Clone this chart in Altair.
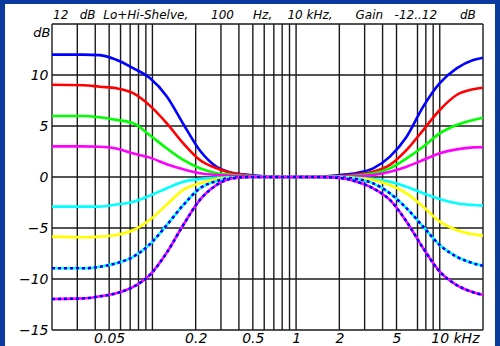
import altair as alt
import pandas as pd

# Frequencies in kHz: low-shelf region, flat middle, high-shelf region
freq_low = [0.02, 0.033, 0.043, 0.056, 0.074, 0.096, 0.126, 0.164, 0.214, 0.28, 0.364, 0.477]
freq_mid = [0.7, 1.0, 1.4]
freq_high = [2.02, 2.64, 3.44, 4.5, 5.88, 7.67, 10.0, 13.1, 17.1, 20.0]

# Magnitude response (dB) for each gain setting
low_p12 = [12.0, 12.0, 11.95, 11.5, 10.65, 9.7, 7.9, 5.2, 2.6, 1.0, 0.4, 0.2]
low_p9 = [9.05, 9.0, 8.85, 8.7, 8.2, 7.0, 5.26, 3.3, 1.67, 0.85, 0.36, 0.15]
low_p6 = [5.98, 5.98, 5.85, 5.6, 5.26, 4.1, 2.8, 1.67, 0.85, 0.36, 0.2, 0.1]
low_p3 = [3.0, 3.0, 2.97, 2.8, 2.3, 1.9, 1.25, 0.75, 0.36, 0.2, 0.1, 0.05]
low_m3 = [-2.9, -2.9, -2.9, -2.7, -2.42, -1.83, -1.1, -0.46, -0.2, -0.07, -0.03, 0.0]
low_m6 = [-5.85, -5.9, -5.85, -5.69, -5.2, -4.2, -2.7, -1.27, -0.62, -0.2, -0.07, 0.0]
low_m9 = [-8.95, -8.95, -8.8, -8.46, -7.8, -6.6, -4.7, -2.75, -1.11, -0.39, -0.07, 0.0]
low_m12 = [-11.96, -11.9, -11.7, -11.4, -10.75, -9.6, -7.4, -4.7, -2.25, -0.78, -0.13, 0.0]

mid_flat = [0.0, 0.0, 0.0]

high_p12 = [0.2, 0.4, 0.85, 2.0, 3.95, 6.9, 9.2, 10.65, 11.47, 11.7]
high_p9 = [0.1, 0.25, 0.52, 1.18, 2.65, 4.6, 6.57, 8.04, 8.6, 8.75]
high_p6 = [0.05, 0.15, 0.36, 0.85, 1.83, 2.97, 4.28, 5.1, 5.59, 5.81]
high_p3 = [0.03, 0.08, 0.2, 0.52, 1.01, 1.67, 2.32, 2.71, 2.9, 2.92]
high_m3 = [0.0, -0.08, -0.2, -0.46, -0.95, -1.6, -2.16, -2.58, -2.75, -2.81]
high_m6 = [0.0, -0.12, -0.29, -0.78, -1.6, -2.91, -4.38, -5.2, -5.62, -5.75]
high_m9 = [-0.05, -0.2, -0.62, -1.6, -3.07, -4.87, -6.67, -7.81, -8.46, -8.7]
high_m12 = [-0.1, -0.46, -1.11, -2.25, -4.38, -6.99, -9.28, -10.59, -11.3, -11.57]

gains = ["+12", "+9", "+6", "+3", "-3", "-6", "-9", "-12"]
colors = ["#0000ff", "#ff0000", "#00ff00", "#ff00ff", "#00ffff", "#ffff00", "#00ffff", "#ff00ff"]
dashed = ["-9", "-12"]
low_sets = [low_p12, low_p9, low_p6, low_p3, low_m3, low_m6, low_m9, low_m12]
high_sets = [high_p12, high_p9, high_p6, high_p3, high_m3, high_m6, high_m9, high_m12]

# Grid positions
x_grid = [0.02, 0.03, 0.04, 0.05, 0.06, 0.07, 0.08, 0.09, 0.1,
          0.2, 0.3, 0.4, 0.5, 0.6, 0.7, 0.8, 0.9, 1.0,
          2, 3, 4, 5, 7, 8, 9, 10, 20]
y_grid = [-15, -10, -5, 0, 5, 10, 15]
x_labels = [0.05, 0.2, 0.5, 1, 2, 5, 10]
y_labels = [-15, -10, -5, 0, 5, 10]

# Title words and the number of non-breaking spaces after each one
title_words = ["12", "dB", "Lo+Hi-Shelve,", "100", "Hz,", "10", "kHz,", "Gain", "-12..12", "dB"]
title_gaps = [3, 2, 6, 5, 4, 1, 6, 3, 6, 0]
title_text = "".join(w + "\u00a0" * n for w, n in zip(title_words, title_gaps))

FONT = "DejaVu Sans"
W, H = 431, 306

rows = []
for g, lo, hi in zip(gains, low_sets, high_sets):
    fs = freq_low + freq_mid + freq_high
    vs = lo + mid_flat + hi
    for i, (f, v) in enumerate(zip(fs, vs)):
        rows.append({"gain": g, "f": f, "db": v, "i": i})
df = pd.DataFrame(rows)

xscale = alt.Scale(type="log", domain=[0.02, 20], nice=False)
yscale = alt.Scale(domain=[-15, 15], nice=False, zero=False)

x_axis = alt.Axis(values=x_labels, format="~g", grid=False, ticks=False, domain=False, zindex=2,
                  labelFont=FONT, labelFontSize=14, labelFontStyle="italic", labelColor="black",
                  labelPadding=1, labelFlush=False, labelBaseline="top",
                  title="kHz", titleFont=FONT, titleFontSize=14, titleFontStyle="italic",
                  titleFontWeight="normal", titleColor="black", titleAnchor="start",
                  titleAlign="left", titleBaseline="top", titleX=401, titleY=1)
y_axis = alt.Axis(values=y_labels, grid=False, ticks=False, domain=False, zindex=2,
                  labelFont=FONT, labelFontSize=14, labelFontStyle="italic", labelColor="black",
                  labelPadding=4, labelFlush=False, labelBaseline="middle",
                  title="dB", titleFont=FONT, titleFontSize=13, titleFontStyle="italic",
                  titleFontWeight="normal", titleColor="black", titleAngle=0,
                  titleAlign="right", titleBaseline="middle", titleX=-2, titleY=8)

# White sheet behind the chart inside the blue frame
panel = alt.Chart(pd.DataFrame({"k": [0]})).mark_rect(color="white").encode(
    x=alt.value(-47), x2=alt.value(W + 12), y=alt.value(-20), y2=alt.value(H + 30)
)

vgrid = alt.Chart(pd.DataFrame({"f": x_grid})).mark_rule(color="#1a1a1a", strokeWidth=1.4).encode(
    x=alt.X("f:Q", scale=xscale, axis=x_axis)
)
hgrid = alt.Chart(pd.DataFrame({"db": y_grid})).mark_rule(color="#1a1a1a", strokeWidth=1.4).encode(
    y=alt.Y("db:Q", scale=yscale, axis=y_axis)
)

layers = [panel, vgrid, hgrid]
for g, c in zip(gains, colors):
    base = alt.Chart(df[df.gain == g]).mark_line(
        color=c, strokeWidth=2.6, interpolate="monotone", strokeCap="butt"
    ).encode(x=alt.X("f:Q", scale=xscale), y=alt.Y("db:Q", scale=yscale), order="i:Q")
    layers.append(base)
    if g in dashed:
        layers.append(
            alt.Chart(df[df.gain == g]).mark_line(
                color="#0000ff", strokeWidth=2.6, interpolate="monotone",
                strokeDash=[3, 3], strokeCap="butt"
            ).encode(x=alt.X("f:Q", scale=xscale), y=alt.Y("db:Q", scale=yscale), order="i:Q")
        )

chart = alt.layer(*layers).properties(
    width=W, height=H,
    title=alt.TitleParams(
        title_text,
        anchor="start", frame="group", offset=0, dy=18, dx=1, font=FONT, fontSize=12,
        fontStyle="italic", fontWeight="normal", color="black", zindex=2
    ),
    autosize=alt.AutoSizeParams(type="none"),
    padding={"left": 52, "top": 24, "right": 17, "bottom": 16},
    background="#0b3a9e",
).configure_view(stroke=None)

chart.save("out.html", embed_options={"renderer": "svg", "actions": False})
